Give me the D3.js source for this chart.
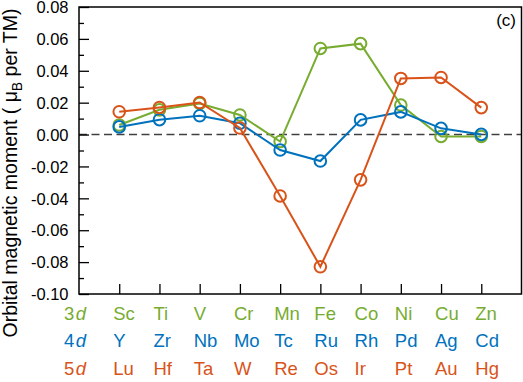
<!DOCTYPE html>
<html>
<head>
  <meta charset="utf-8">
  <script src="https://d3js.org/d3.v7.min.js"></script>
  <style>
    body { margin: 0; background: #fff; }
    text { font-family: "Liberation Sans", Arial, sans-serif; }
  </style>
</head>
<body>
<script>
  // Element names for each row
  var row3d = ["Sc", "Ti", "V", "Cr", "Mn", "Fe", "Co", "Ni", "Cu", "Zn"];
  var row4d = ["Y", "Zr", "Nb", "Mo", "Tc", "Ru", "Rh", "Pd", "Ag", "Cd"];
  var row5d = ["Lu", "Hf", "Ta", "W", "Re", "Os", "Ir", "Pt", "Au", "Hg"];

  // Orbital magnetic moments (muB per TM)
  var values3d = [0.006, 0.0155, 0.0195, 0.0123, -0.0044, 0.054, 0.057, 0.0185, -0.0012, -0.0012];
  var values4d = [0.0048, 0.0093, 0.0118, 0.0071, -0.0097, -0.0166, 0.0092, 0.0142, 0.0039, 0.0001];
  var values5d = [0.0143, 0.017, 0.0201, 0.0041, -0.0385, -0.0829, -0.0284, 0.0352, 0.0358, 0.0169];

  var yTicks = [-0.10, -0.08, -0.06, -0.04, -0.02, 0.00, 0.02, 0.04, 0.06, 0.08];

  var width = 523, height = 382;
  var margin = {top: 7, right: 1.5, bottom: 88, left: 79};

  var svg = d3.select("body").append("svg")
    .attr("width", width)
    .attr("height", height);

  var x = d3.scaleLinear().domain([0, 11]).range([margin.left, width - margin.right]);
  var y = d3.scaleLinear().domain([-0.10, 0.08]).range([height - margin.bottom, margin.top]);

  var series = [
    {name: "3d", digit: "3", color: "#77AC30", values: values3d, labels: row3d},
    {name: "4d", digit: "4", color: "#0072BD", values: values4d, labels: row4d},
    {name: "5d", digit: "5", color: "#D95319", values: values5d, labels: row5d}
  ];

  // zero line
  svg.append("line")
    .attr("x1", x(0)).attr("x2", x(11))
    .attr("y1", y(0)).attr("y2", y(0))
    .attr("stroke", "#404040")
    .attr("stroke-width", 1.5)
    .attr("stroke-dasharray", "8,4.5");

  // left axis, ticks inward
  var yAxis = d3.axisRight(y)
    .tickValues(d3.range(-0.10, 0.0801, 0.01))
    .tickFormat("")
    .tickSizeOuter(0);
  var gy = svg.append("g")
    .attr("transform", "translate(" + x(0) + ",0)")
    .call(yAxis);
  gy.select(".domain").remove();
  gy.selectAll(".tick line")
    .attr("x2", function(d, i) { return i % 2 === 0 ? 10 : 5; })
    .attr("stroke", "#000")
    .attr("stroke-width", 1.3);

  // y tick labels (plain hyphen for the minus, as in the original)
  svg.selectAll(".ylab")
    .data(yTicks)
    .enter().append("text")
    .attr("class", "ylab")
    .attr("x", x(0) - 10.5)
    .attr("y", function(d) { return y(d); })
    .attr("dy", "0.38em")
    .attr("text-anchor", "end")
    .style("font-size", "16.5px")
    .text(function(d) { return d.toFixed(2); });

  // bottom axis, ticks inward
  var xAxis = d3.axisTop(x)
    .tickValues(d3.range(1, 11))
    .tickFormat("")
    .tickSize(10)
    .tickSizeOuter(0);
  var gx = svg.append("g")
    .attr("transform", "translate(0," + y(-0.10) + ")")
    .call(xAxis);
  gx.select(".domain").remove();
  gx.selectAll(".tick line").attr("stroke", "#000").attr("stroke-width", 1.3);

  // frame
  svg.append("rect")
    .attr("x", x(0)).attr("y", y(0.08))
    .attr("width", x(11) - x(0))
    .attr("height", y(-0.10) - y(0.08))
    .attr("fill", "none")
    .attr("stroke", "#000")
    .attr("stroke-width", 1.5);

  var line = d3.line()
    .x(function(d, i) { return x(i + 1); })
    .y(function(d) { return y(d); });

  series.forEach(function(s) {
    svg.append("path")
      .datum(s.values)
      .attr("d", line)
      .attr("fill", "none")
      .attr("stroke", s.color)
      .attr("stroke-width", 2);

    svg.selectAll(null)
      .data(s.values)
      .enter().append("circle")
      .attr("cx", function(d, i) { return x(i + 1); })
      .attr("cy", function(d) { return y(d); })
      .attr("r", 5.8)
      .attr("fill", "none")
      .attr("stroke", s.color)
      .attr("stroke-width", 2);
  });

  // element rows under the axis
  series.forEach(function(s, k) {
    var rowY = 319.5 + k * 27.6;
    var rowLabel = svg.append("text")
      .attr("x", 64)
      .attr("y", rowY)
      .attr("fill", s.color)
      .style("font-size", "18.5px");
    rowLabel.append("tspan").text(s.digit);
    rowLabel.append("tspan").attr("dx", 1.5).style("font-style", "italic").text("d");

    svg.selectAll(null)
      .data(s.labels)
      .enter().append("text")
      .attr("x", function(d, i) { return x(i + 1) - 6; })
      .attr("y", rowY)
      .attr("fill", s.color)
      .style("font-size", "18.5px")
      .text(function(d) { return d; });
  });

  // y label
  var ylabel = svg.append("text")
    .attr("transform", "translate(17,173) rotate(-90)")
    .attr("text-anchor", "middle")
    .style("font-size", "19.5px");
  ylabel.append("tspan").text("Orbital magnetic moment ( \u03bc");
  ylabel.append("tspan").attr("dy", 5).style("font-size", "14px").text("B");
  ylabel.append("tspan").attr("dy", -5).text(" per TM)");

  // panel tag
  svg.append("text")
    .attr("x", 516)
    .attr("y", 26)
    .attr("text-anchor", "end")
    .style("font-size", "17px")
    .text("(c)");
</script>
</body>
</html>
